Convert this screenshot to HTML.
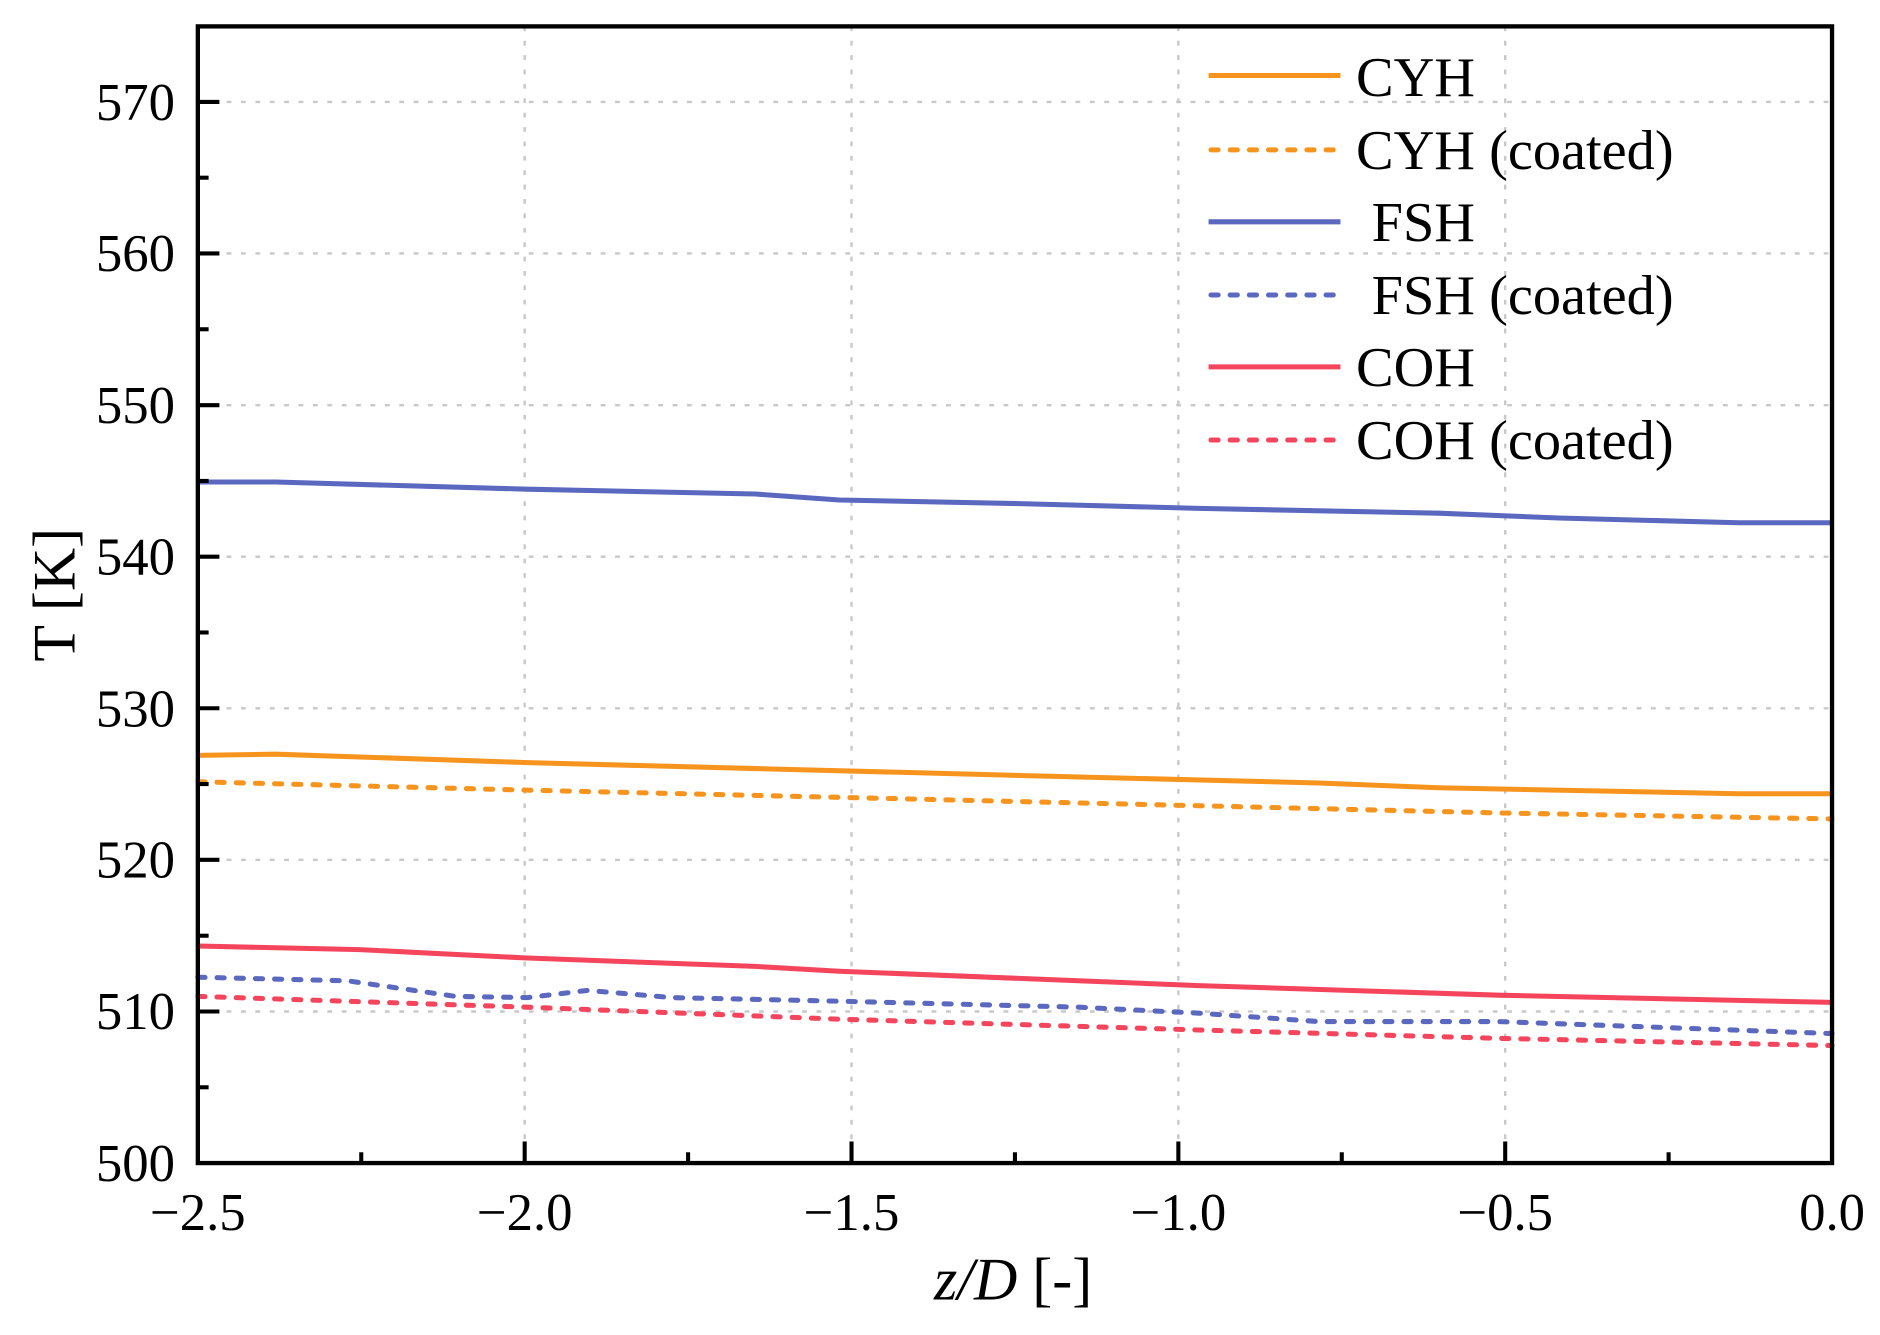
<!DOCTYPE html>
<html><head><meta charset="utf-8"><style>html,body{margin:0;padding:0;background:#fff}svg{display:block}</style></head><body>
<svg width="1880" height="1335" viewBox="0 0 1568 1113.4" preserveAspectRatio="none" xmlns="http://www.w3.org/2000/svg" font-family="Liberation Serif, serif">
<g stroke="#c8c8c8" stroke-width="2" stroke-dasharray="4,8">
<line x1="165" x2="1528" y1="843.6" y2="843.6"/><line x1="165" x2="1528" y1="717.1" y2="717.1"/><line x1="165" x2="1528" y1="590.7" y2="590.7"/><line x1="165" x2="1528" y1="464.3" y2="464.3"/><line x1="165" x2="1528" y1="337.9" y2="337.9"/><line x1="165" x2="1528" y1="211.4" y2="211.4"/><line x1="165" x2="1528" y1="85" y2="85"/>
<line y1="22" y2="970" x1="437.6" x2="437.6"/><line y1="22" y2="970" x1="710.2" x2="710.2"/><line y1="22" y2="970" x1="982.8" x2="982.8"/><line y1="22" y2="970" x1="1255.4" x2="1255.4"/>
</g>
<g fill="none" stroke-width="4.2" stroke-linejoin="round">
<polyline stroke="#5b68bf" points="165,402 230,402 440,408 630,412 700,417 850,420 1000,424 1200,428 1300,432 1450,436 1528,436"/>
<polyline stroke="#f7941d" points="165,630 230,629 440,636 630,641 900,648 1100,653 1200,657 1450,662 1528,662"/>
<polyline stroke="#f7941d" stroke-dasharray="6,10" stroke-linecap="round" points="165,652 440,659 700,665 1000,672 1250,678 1528,683"/>
<polyline stroke="#f5455c" points="165,789 300,792 440,799 630,806 700,810 1000,822 1250,830 1528,836"/>
<polyline stroke="#5b68bf" stroke-dasharray="6,10" stroke-linecap="round" points="165,815 290,818 380,831 440,832 490,826 560,832 700,835 900,840 1000,845 1100,852 1250,852 1528,862"/>
<polyline stroke="#f5455c" stroke-dasharray="6,10" stroke-linecap="round" points="165,831 440,840 700,850 1000,859 1250,866 1528,872"/>
</g>
<rect x="165" y="22" width="1363" height="948" fill="none" stroke="#000" stroke-width="3.6"/>
<g stroke="#000" stroke-width="3.4">
<line x1="165" x2="183" y1="843.6" y2="843.6"/><line x1="165" x2="183" y1="717.1" y2="717.1"/><line x1="165" x2="183" y1="590.7" y2="590.7"/><line x1="165" x2="183" y1="464.3" y2="464.3"/><line x1="165" x2="183" y1="337.9" y2="337.9"/><line x1="165" x2="183" y1="211.4" y2="211.4"/><line x1="165" x2="183" y1="85" y2="85"/>
<line x1="165" x2="174" y1="906.8" y2="906.8"/><line x1="165" x2="174" y1="780.4" y2="780.4"/><line x1="165" x2="174" y1="653.9" y2="653.9"/><line x1="165" x2="174" y1="527.5" y2="527.5"/><line x1="165" x2="174" y1="401.1" y2="401.1"/><line x1="165" x2="174" y1="274.6" y2="274.6"/><line x1="165" x2="174" y1="148.2" y2="148.2"/>
<line y1="970" y2="952" x1="437.6" x2="437.6"/><line y1="970" y2="952" x1="710.2" x2="710.2"/><line y1="970" y2="952" x1="982.8" x2="982.8"/><line y1="970" y2="952" x1="1255.4" x2="1255.4"/>
<line y1="970" y2="961" x1="301.3" x2="301.3"/><line y1="970" y2="961" x1="573.9" x2="573.9"/><line y1="970" y2="961" x1="846.5" x2="846.5"/><line y1="970" y2="961" x1="1119.1" x2="1119.1"/><line y1="970" y2="961" x1="1391.7" x2="1391.7"/>
</g>
<g font-size="44" text-anchor="end">
<text x="146" y="985">500</text><text x="146" y="858">510</text><text x="146" y="732">520</text><text x="146" y="606">530</text><text x="146" y="479">540</text><text x="146" y="353">550</text><text x="146" y="226">560</text><text x="146" y="100">570</text>
</g>
<g font-size="44" text-anchor="middle">
<text x="165" y="1026">−2.5</text><text x="437.6" y="1026">−2.0</text><text x="710.2" y="1026">−1.5</text><text x="982.8" y="1026">−1.0</text><text x="1255.4" y="1026">−0.5</text><text x="1528" y="1026">0.0</text>
</g>
<text x="845" y="1084" font-size="50" text-anchor="middle"><tspan font-style="italic">z/D</tspan> [-]</text>
<text transform="translate(62,496) rotate(-90)" font-size="50" text-anchor="middle">T [K]</text>
<g stroke-width="4.2">
<line x1="1008" x2="1118" y1="63" y2="63" stroke="#f7941d"/>
<line x1="1010" x2="1118" y1="125" y2="125" stroke="#f7941d" stroke-dasharray="6,10" stroke-linecap="round"/>
<line x1="1008" x2="1118" y1="185" y2="185" stroke="#5b68bf"/>
<line x1="1010" x2="1118" y1="246" y2="246" stroke="#5b68bf" stroke-dasharray="6,10" stroke-linecap="round"/>
<line x1="1008" x2="1118" y1="306" y2="306" stroke="#f5455c"/>
<line x1="1010" x2="1118" y1="367" y2="367" stroke="#f5455c" stroke-dasharray="6,10" stroke-linecap="round"/>
</g>
<g font-size="47">
<text x="1131" y="80">CYH</text><text x="1131" y="141">CYH (coated)</text><text x="1144" y="201">FSH</text><text x="1144" y="262">FSH (coated)</text><text x="1131" y="322">COH</text><text x="1131" y="383">COH (coated)</text>
</g>
</svg>
</body></html>
